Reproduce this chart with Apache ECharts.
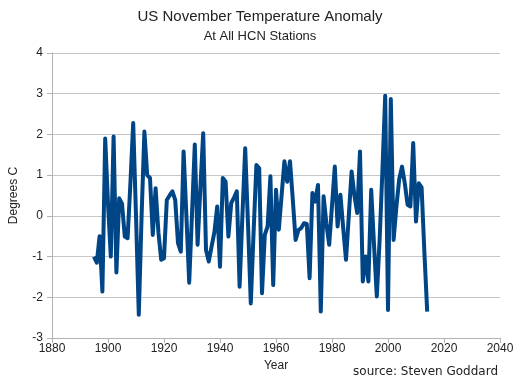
<!DOCTYPE html>
<html><head><meta charset="utf-8">
<script src="https://cdn.jsdelivr.net/npm/echarts@6/dist/echarts.min.js"></script>
<style>html,body{margin:0;padding:0;background:#fff}#c{width:520px;height:380px}</style>
</head><body><div id="c"></div>
<script>
const startYear = 1895;
const anomaly = [
  -1.0, -1.15, -0.5, -1.86, 1.9,
  0.3, -1.0, 1.95, -1.39, 0.43, 0.3, -0.51, -0.55, 0.8, 2.28,
  0.0, -2.43, 0.0, 2.07, 1.0, 0.93, -0.47, 0.68, -0.4, -1.08,
  -1.04, 0.39, 0.5, 0.6, 0.39, -0.67, -0.88, 1.58, 0.0, -1.64,
  0.05, 1.75, -0.71, 0.7, 2.03, -0.84, -1.12, -0.75, -0.4, 0.23,
  -1.25, 0.93, 0.84, -0.51, 0.31, 0.45, 0.6, -1.74, 0.0, 1.66,
  -0.2, -2.15, -0.4, 1.25, 1.17, -1.9, -0.47, -0.26, 0.97, -1.7,
  0.64, -0.34, 0.5, 1.34, 0.84, 1.34, 0.4, -0.59, -0.35, -0.3,
  -0.18, -0.2, -1.53, 0.56, 0.35, 0.76, -2.35, 0.48, -0.2, -0.71,
  0.25, 1.21, -0.26, 0.52, -0.3, -1.08, 0.0, 1.09, 0.5, 0.07,
  1.58, -1.61, -1.0, -1.61, 0.64, -0.7, -1.98, -0.6, 1.1, 2.95,
  -2.31, 2.87, -0.59, 0.23, 0.9, 1.21, 0.8, 0.27, 0.23, 1.79,
  -0.14, 0.8, 0.7, -0.9, -2.35
];
const years = anomaly.map((_, i) => startYear + i);
const titleText = 'US November Temperature Anomaly';
const subtitleText = 'At All HCN Stations';
const xName = 'Year';
const yName = 'Degrees C';
const sourceText = 'source: Steven Goddard';

const chart = echarts.init(document.getElementById('c'), null, {renderer: 'canvas'});
const font = 'Liberation Sans, Arial, sans-serif';
chart.setOption({
  animation: false,
  backgroundColor: '#fff',
  title: {
    text: titleText, subtext: subtitleText, left: 'center', top: 4,
    itemGap: 6,
    textStyle: {fontFamily: font, fontSize: 15, fontWeight: 'normal', color: '#222'},
    subtextStyle: {fontFamily: font, fontSize: 13, color: '#222'}
  },
  grid: {left: 50, right: 20, top: 53, bottom: 42, containLabel: false},
  xAxis: {
    type: 'value', min: 1880, max: 2040, interval: 20,
    name: xName, nameLocation: 'middle', nameGap: 22,
    nameTextStyle: {fontFamily: font, fontSize: 12, color: '#222'},
    axisLine: {show: true, onZero: false, lineStyle: {color: '#b3b3b3', width: 1}},
    axisTick: {show: true, length: 5, lineStyle: {color: '#b3b3b3'}},
    axisLabel: {fontFamily: font, fontSize: 12, color: '#222', margin: 5,
      formatter: v => String(v)},
    splitLine: {show: false}
  },
  yAxis: {
    type: 'value', min: -3, max: 4, interval: 1,
    name: yName, nameLocation: 'middle', nameGap: 32, nameRotate: 90,
    nameTextStyle: {fontFamily: font, fontSize: 12, color: '#222'},
    axisLine: {show: true, lineStyle: {color: '#b3b3b3', width: 1}},
    axisTick: {show: true, length: 5, lineStyle: {color: '#b3b3b3'}},
    axisLabel: {fontFamily: font, fontSize: 12, color: '#222', margin: 9},
    splitLine: {show: true, lineStyle: {color: '#c6c6c6', width: 1}}
  },
  graphic: [{
    type: 'text', right: 22, bottom: 2,
    style: {text: sourceText, font: '12px "DejaVu Sans", Verdana, sans-serif', fill: '#222'}
  }],
  series: [{
    type: 'line',
    data: years.map((y, i) => [y, anomaly[i]]),
    showSymbol: false,
    lineStyle: {color: '#004586', width: 4, join: 'round'},
    itemStyle: {color: '#004586'}
  }]
});
</script></body></html>
